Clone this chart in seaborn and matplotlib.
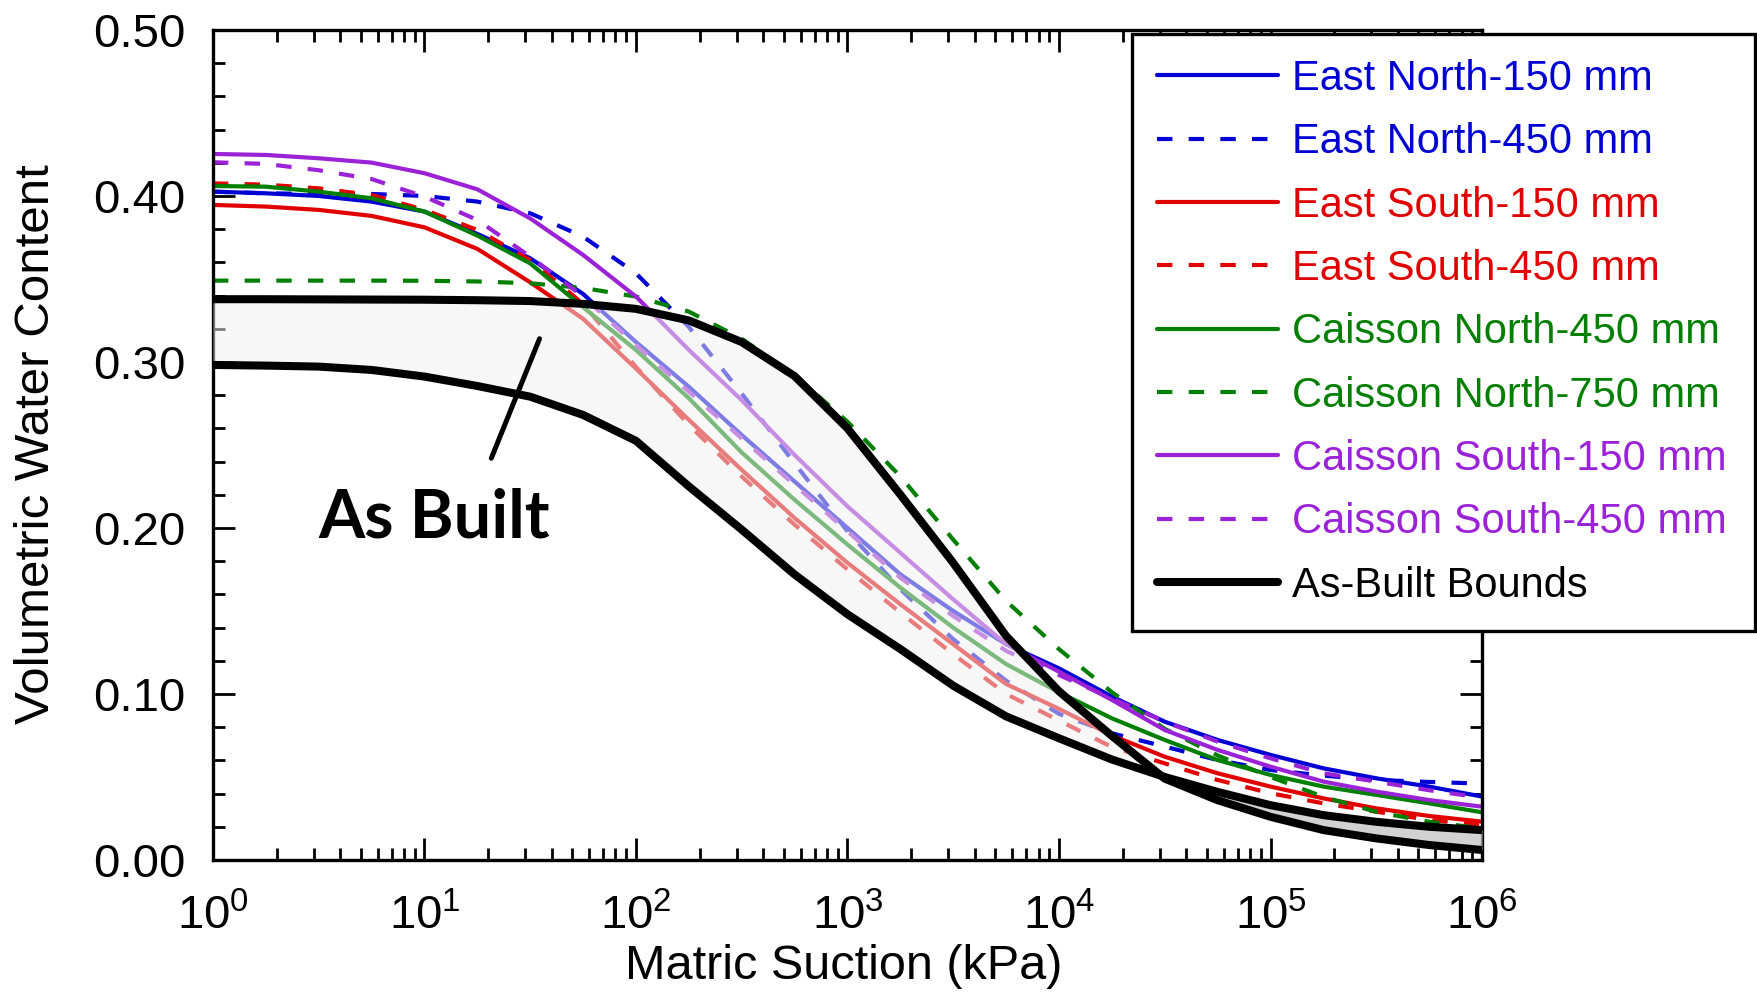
import numpy as np
import pandas as pd
import matplotlib
matplotlib.use("Agg")
import matplotlib.pyplot as plt
import seaborn as sns
from matplotlib.lines import Line2D

# ---------------- data ----------------
suction = [1, 1.78, 3.16, 5.62, 10, 17.8, 31.6, 56.2, 100, 178, 316, 562, 1000,
           1780, 3160, 5620, 1e4, 1.78e4, 3.16e4, 5.62e4, 1e5, 1.78e5, 3.16e5, 5.62e5, 1e6]

east_north_150 = [0.4026, 0.4016, 0.4000, 0.3966, 0.3906, 0.3771, 0.3625, 0.3410, 0.312, 0.285,
                  0.256, 0.228, 0.200, 0.172, 0.150, 0.130, 0.1154, 0.0984, 0.0833, 0.0723,
                  0.0633, 0.0552, 0.0492, 0.0442, 0.0382]
east_north_450 = [0.4026, 0.4016, 0.4012, 0.4012, 0.4000, 0.3966, 0.3896, 0.3755, 0.3534, 0.321,
                  0.281, 0.239, 0.198, 0.163, 0.133, 0.108, 0.088, 0.0763, 0.0683, 0.0602,
                  0.0542, 0.0508, 0.0482, 0.0470, 0.0460]
east_south_150 = [0.3946, 0.3936, 0.3916, 0.3880, 0.3811, 0.3681, 0.3480, 0.3260, 0.2960, 0.2651,
                  0.235, 0.206, 0.179, 0.154, 0.130, 0.106, 0.091, 0.075, 0.0622, 0.0522,
                  0.0442, 0.0371, 0.0311, 0.0265, 0.0231]
east_south_450 = [0.4076, 0.4068, 0.4046, 0.4006, 0.3916, 0.3795, 0.3614, 0.3350, 0.2970, 0.2620,
                  0.231, 0.202, 0.175, 0.149, 0.124, 0.100, 0.084, 0.068, 0.0582, 0.0482,
                  0.0402, 0.0341, 0.0291, 0.0241, 0.0211]
caisson_north_450 = [0.4060, 0.4056, 0.4026, 0.3986, 0.3906, 0.3761, 0.3594, 0.3330, 0.3072, 0.2781,
                     0.2455, 0.217, 0.190, 0.164, 0.140, 0.118, 0.101, 0.0853, 0.0723, 0.0602,
                     0.0512, 0.0442, 0.0392, 0.0341, 0.0287]
caisson_north_750 = [0.349, 0.349, 0.349, 0.349, 0.3489, 0.3485, 0.3474, 0.3446, 0.3394, 0.3303,
                     0.314, 0.292, 0.264, 0.231, 0.193, 0.156, 0.127, 0.101, 0.079, 0.063,
                     0.050, 0.038, 0.029, 0.023, 0.019]
caisson_south_150 = [0.4253, 0.4247, 0.4227, 0.4201, 0.4137, 0.4040, 0.3865, 0.3645, 0.3394, 0.3072,
                     0.277, 0.244, 0.213, 0.185, 0.157, 0.130, 0.1134, 0.0964, 0.0783, 0.0663,
                     0.0562, 0.0472, 0.0412, 0.0361, 0.0321]
caisson_south_450 = [0.4203, 0.4193, 0.4155, 0.4102, 0.3996, 0.3855, 0.3635, 0.3394, 0.3102, 0.2821,
                     0.254, 0.226, 0.198, 0.170, 0.147, 0.126, 0.1114, 0.0974, 0.0833, 0.0713,
                     0.0612, 0.0522, 0.0472, 0.0420, 0.0375]
as_built_upper = [0.3378, 0.3378, 0.3377, 0.3376, 0.3375, 0.3372, 0.3367, 0.3350, 0.3320, 0.3250,
                  0.3120, 0.2915, 0.2600, 0.2200, 0.1790, 0.1350, 0.1016, 0.0747, 0.0490, 0.0360,
                  0.0260, 0.0180, 0.0130, 0.0090, 0.0060]
as_built_lower = [0.2982, 0.2978, 0.2972, 0.2952, 0.2912, 0.2855, 0.2791, 0.2681, 0.2525, 0.2250,
                  0.1990, 0.1720, 0.1480, 0.1270, 0.1050, 0.0865, 0.0733, 0.0605, 0.0500, 0.0410,
                  0.0330, 0.0270, 0.0230, 0.0200, 0.0180]

series_names = ["East North-150 mm", "East North-450 mm", "East South-150 mm", "East South-450 mm",
                "Caisson North-450 mm", "Caisson North-750 mm", "Caisson South-150 mm",
                "Caisson South-450 mm"]
series_values = [east_north_150, east_north_450, east_south_150, east_south_450,
                 caisson_north_450, caisson_north_750, caisson_south_150, caisson_south_450]
series_colors = ["#0000d4", "#0000d4", "#e00000", "#e00000",
                 "#007f00", "#007f00", "#9b22d6", "#9b22d6"]
series_dashed = [False, True, False, True, False, True, False, True]
bounds_label = "As-Built Bounds"

x_ticks = [1, 10, 100, 1000, 1e4, 1e5, 1e6]
x_tick_labels = ["$10^{0}$", "$10^{1}$", "$10^{2}$", "$10^{3}$", "$10^{4}$", "$10^{5}$", "$10^{6}$"]
y_ticks = [0.0, 0.1, 0.2, 0.3, 0.4, 0.5]
y_tick_labels = ["0.00", "0.10", "0.20", "0.30", "0.40", "0.50"]
annotation_text = "As Built"

# ---------------- style ----------------
sns.set_style("white")
plt.rcParams["font.family"] = ["Liberation Sans", "DejaVu Sans"]
plt.rcParams["mathtext.fontset"] = "custom"
plt.rcParams["mathtext.rm"] = "Liberation Sans"
plt.rcParams["mathtext.it"] = "Liberation Sans"
plt.rcParams["mathtext.bf"] = "Liberation Sans:bold"
for key in ("text.color", "axes.labelcolor", "xtick.color", "ytick.color", "axes.edgecolor"):
    plt.rcParams[key] = "black"

fig = plt.figure(figsize=(17.57, 9.92), dpi=100)
ax = fig.add_axes([0.1212, 0.1331, 0.7223, 0.8367])

LW = 3.0
DASH = (3.7, 3.9)
handles = []
for name, vals, col, dashed in zip(series_names, series_values, series_colors, series_dashed):
    df = pd.DataFrame({"suction": suction, "vwc": vals})
    sns.lineplot(data=df, x="suction", y="vwc", ax=ax, color=col, lw=LW,
                 estimator=None, sort=False, zorder=2)
    line = ax.get_lines()[-1]
    line.set_solid_joinstyle("round")
    line.set_dash_joinstyle("round")
    if dashed:
        line.set_dashes(DASH)
    h = Line2D([], [], color=col, lw=LW)
    if dashed:
        h.set_dashes(DASH)
    handles.append(h)

sx = np.array(suction)
up = np.array(as_built_upper)
lo = np.array(as_built_lower)
ax.fill_between(sx, lo, up, where=up >= lo, interpolate=True, color="#f0f0f0",
                alpha=0.52, lw=0, zorder=3)
ax.fill_between(sx, lo, up, where=up <= lo, interpolate=True, color="#c4c4c4",
                alpha=0.75, lw=0, zorder=3)
for vals in (as_built_upper, as_built_lower):
    df = pd.DataFrame({"suction": suction, "vwc": vals})
    sns.lineplot(data=df, x="suction", y="vwc", ax=ax, color="black", lw=5.8,
                 estimator=None, sort=False, zorder=4)
    ax.get_lines()[-1].set_solid_joinstyle("round")
handles.append(Line2D([], [], color="black", lw=5.8))

# annotation
ax.annotate("", xy=(35.0, 0.314), xytext=(20.7, 0.242),
            arrowprops=dict(arrowstyle="-", lw=3.6, color="black", shrinkA=0, shrinkB=0),
            zorder=6)
ax.text(3.15, 0.194, annotation_text, fontsize=48, fontweight="bold", color="black",
        family=["Lato", "DejaVu Sans"], ha="left", va="baseline", zorder=6)

# axes
ax.set_xscale("log")
ax.set_xlim(1, 1e6)
ax.set_ylim(0, 0.5)
ax.set_xticks(x_ticks)
ax.set_xticklabels(x_tick_labels)
ax.set_yticks(y_ticks)
ax.set_yticklabels(y_tick_labels)
ax.yaxis.set_minor_locator(matplotlib.ticker.MultipleLocator(0.02))
ax.xaxis.set_minor_locator(matplotlib.ticker.LogLocator(base=10, subs=np.arange(2, 10), numticks=20))
ax.xaxis.set_minor_formatter(matplotlib.ticker.NullFormatter())
ax.tick_params(which="both", direction="in", top=True, right=True, bottom=True, left=True,
               color="black", width=2.0, labelcolor="black")
ax.tick_params(which="major", length=15.8)
ax.tick_params(which="minor", length=8.6)
ax.tick_params(axis="y", which="major", labelsize=34, pad=20)
ax.tick_params(axis="x", which="major", labelsize=34, pad=25)
for sp in ax.spines.values():
    sp.set_linewidth(2.4)
    sp.set_color("black")
    sp.set_visible(True)

ax.set_xlabel("Matric Suction (kPa)", fontsize=35, color="black")
ax.set_ylabel("Volumetric Water Content", fontsize=35.5, color="black")
ax.xaxis.set_label_coords(0.497, -0.101)
ax.yaxis.set_label_coords(-0.121, 0.501)

leg = ax.legend(handles, series_names + [bounds_label], loc="upper left",
                bbox_to_anchor=(0.6443, 0.3679, 0.3546, 0.5978),
                bbox_transform=fig.transFigure, mode="expand",
                fontsize=30, frameon=True, fancybox=False, shadow=False, framealpha=1,
                edgecolor="black", handlelength=2.9, handletextpad=0.34,
                labelspacing=0.56, borderpad=0.6, borderaxespad=0)
leg.get_frame().set_linewidth(2.4)
for txt, col in zip(leg.get_texts(), series_colors + ["black"]):
    txt.set_color(col)
leg.set_zorder(10)

fig.savefig("out.png", dpi=100)
